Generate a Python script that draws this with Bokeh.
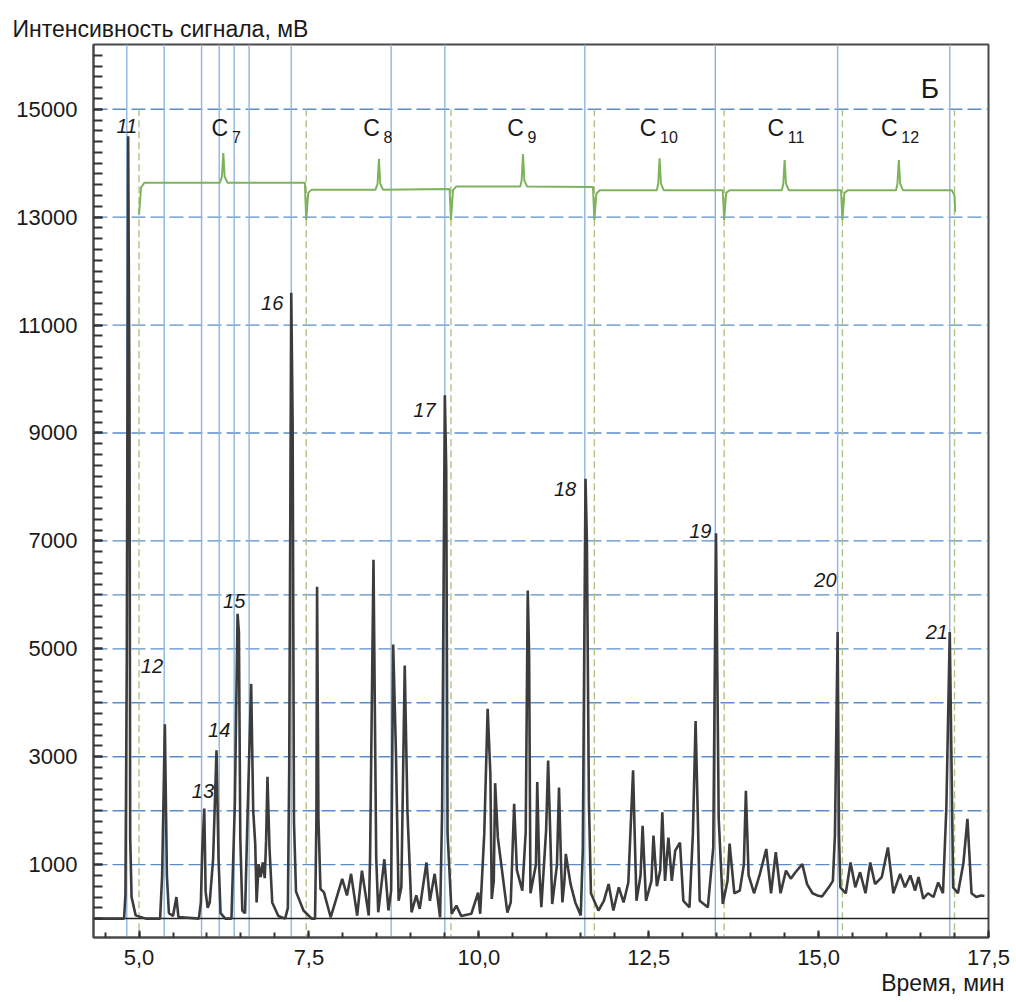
from bokeh.plotting import figure
from bokeh.models import Span, FixedTicker, Title, Range1d
from bokeh.core.properties import value
from bokeh.embed import file_html
from bokeh.resources import INLINE

FONT = "Liberation Sans"

# chromatogram: time (min) / signal (mV)
time_min = [
    4.33, 4.78, 4.80, 4.82, 4.84, 4.86, 4.87, 4.89, 4.95, 5.10,
    5.31, 5.34, 5.38, 5.41, 5.44, 5.50, 5.55, 5.58, 5.88,
    5.91, 5.93, 5.96, 5.98, 6.01, 6.04, 6.09, 6.14, 6.17, 6.20, 6.27,
    6.36, 6.41, 6.45, 6.47, 6.49, 6.52, 6.56, 6.60, 6.65, 6.68, 6.71, 6.73,
    6.76, 6.79, 6.82, 6.85, 6.87, 6.89, 6.92, 6.96, 7.05, 7.15,
    7.19, 7.21, 7.24, 7.26, 7.28, 7.31, 7.42, 7.54,
    7.59, 7.60, 7.61, 7.62, 7.64, 7.67, 7.72, 7.82, 7.99, 8.06, 8.12, 8.21,
    8.28, 8.38, 8.40, 8.45, 8.49, 8.52, 8.61, 8.67, 8.71, 8.74, 8.78, 8.82,
    8.86, 8.91, 8.95, 9.01, 9.08, 9.13, 9.23, 9.28, 9.35, 9.43,
    9.46, 9.50, 9.52, 9.54, 9.60, 9.67, 9.74, 9.89, 9.99, 10.02,
    10.08, 10.13, 10.17, 10.19, 10.22, 10.24, 10.28, 10.42, 10.47, 10.52,
    10.56, 10.64, 10.69, 10.72, 10.74, 10.76, 10.84, 10.86, 10.89, 10.92,
    10.99, 11.02, 11.05, 11.08, 11.15, 11.18, 11.21, 11.23, 11.26, 11.28,
    11.35, 11.42, 11.50, 11.53, 11.57, 11.59, 11.62, 11.65, 11.76,
    11.84, 11.91, 11.98, 12.06, 12.13, 12.20, 12.23, 12.27, 12.30, 12.32,
    12.38, 12.41, 12.46, 12.54, 12.57, 12.62, 12.67, 12.70, 12.74, 12.79,
    12.84, 12.89, 12.96, 13.01, 13.10, 13.15, 13.19, 13.22, 13.25, 13.37,
    13.45, 13.49, 13.53, 13.59, 13.66, 13.69, 13.76, 13.84, 13.90, 13.93,
    13.97, 14.01, 14.05, 14.13, 14.23, 14.30, 14.37, 14.44, 14.52, 14.59,
    14.66, 14.76, 14.83, 14.91, 14.98, 15.05, 15.15, 15.21, 15.24, 15.28,
    15.30, 15.32, 15.40, 15.47, 15.54, 15.61, 15.69, 15.76, 15.83, 15.93,
    16.02, 16.10, 16.20, 16.27, 16.35, 16.42, 16.47, 16.54, 16.61, 16.69,
    16.76, 16.83, 16.88, 16.93, 16.98, 17.05, 17.13, 17.19, 17.25, 17.32,
    17.39, 17.44,
]
signal_mv = [
    0, 0, 450, 4800, 14500, 9400, 1500, 400, 60, 0,
    0, 800, 3600, 800, 100, 50, 400, 30, 0,
    300, 1260, 2040, 500, 200, 300, 1100, 3120, 1100, 100, 0,
    0, 2120, 5650, 5300, 1500, 150, 100, 2060, 4350, 2000, 1380, 300,
    1010, 770, 1040, 750, 1450, 2630, 1300, 300, 50, 0,
    200, 2800, 11600, 9200, 1800, 500, 150, 0,
    0, 890, 1850, 6150, 1850, 550, 490, 25, 735, 430, 830, 56,
    890, 56, 1140, 6650, 1140, 117, 1100, 150, 520, 5080, 3100, 330,
    580, 4690, 1970, 117, 430, 180, 1040, 330, 830, 25,
    2000, 9700, 8350, 1570, 90, 240, 50, 90, 480, 90,
    1570, 3890, 2680, 365, 700, 2510, 1500, 110, 300, 2130,
    900, 520, 1600, 6080, 4900, 470, 1000, 2530, 900, 210,
    1630, 2930, 1630, 270, 1000, 2430, 1000, 300, 700, 1200,
    640, 300, 60, 1260, 8150, 7000, 2160, 470, 150,
    330, 640, 150, 580, 300, 670, 1570, 2750, 1260, 330,
    800, 1720, 330, 700, 1540, 600, 900, 1970, 700, 1500,
    700, 1260, 1410, 330, 210, 1570, 3660, 2030, 330, 210,
    1320, 7140, 1850, 270, 700, 1390, 470, 520, 1000, 2370,
    800, 640, 470, 800, 1290, 470, 1230, 470, 890, 740,
    860, 1010, 640, 470, 430, 410, 580, 700, 1540, 5310,
    1540, 580, 470, 1040, 580, 860, 470, 1040, 640, 770,
    1320, 470, 830, 580, 800, 520, 770, 370, 470, 400,
    670, 470, 2060, 5310, 580, 470, 1020, 1850, 470, 400,
    430, 420,
]

# standards trace (n-alkanes C7 ... C12)
std_time = [
    5.00, 5.03, 5.08, 6.19, 6.22, 6.24, 6.26, 6.30, 7.44,
    7.46, 7.49, 7.54, 8.48, 8.51, 8.53, 8.55, 8.59, 9.57,
    9.59, 9.62, 9.67, 10.61, 10.63, 10.65, 10.67, 10.71, 11.68,
    11.70, 11.73, 11.78, 12.62, 12.64, 12.66, 12.68, 12.72, 13.59,
    13.61, 13.64, 13.69, 14.46, 14.48, 14.50, 14.52, 14.56, 15.33,
    15.35, 15.38, 15.43, 16.14, 16.16, 16.18, 16.20, 16.24, 16.96,
    17.00, 17.01,
]
std_mv = [
    13050, 13550, 13640, 13640, 13750, 14190, 13750, 13640, 13640,
    12950, 13450, 13510, 13510, 13620, 14080, 13620, 13510, 13520,
    12950, 13500, 13570, 13570, 13680, 14170, 13680, 13570, 13560,
    12950, 13440, 13500, 13500, 13620, 14090, 13620, 13500, 13500,
    12950, 13450, 13500, 13500, 13620, 14060, 13620, 13500, 13500,
    12950, 13450, 13500, 13500, 13620, 14060, 13620, 13500, 13500,
    13400, 13100,
]

# boundaries between the alkane windows and the marked peaks
window_bounds = [5.00, 7.46, 9.59, 11.70, 13.61, 15.35, 17.00]
peak_marks = [4.82, 5.37, 5.92, 6.18, 6.40, 6.62, 7.24, 8.71, 9.50,
              11.56, 13.48, 15.28, 16.93]

# peak numbers
peak_names = ["11", "12", "13", "14", "15", "16", "17", "18", "19", "20", "21"]
peak_name_x = [4.82, 5.19, 5.94, 6.18, 6.40, 6.96, 9.20, 11.27, 13.26, 15.10, 16.74]
peak_name_y = [14690, 4690, 2370, 3490, 5880, 11400, 9420, 7970, 7190, 6270, 5320]

# alkane labels
alkane_n = ["7", "8", "9", "10", "11", "12"]
alkane_x = [6.19, 8.42, 10.54, 12.49, 14.37, 16.04]

grid_levels = [1000, 2000, 3000, 4000, 5000, 6000, 7000, 9000, 11000, 13000, 15000]
y_ticks = [1000, 3000, 5000, 7000, 9000, 11000, 13000, 15000]
x_ticks = [5.0, 7.5, 10.0, 12.5, 15.0, 17.5]
x_tick_labels = ["5,0", "7,5", "10,0", "12,5", "15,0", "17,5"]

p = figure(width=1010, height=1002, x_range=Range1d(4.33, 17.5), y_range=Range1d(-350, 16200),
           output_backend="svg", toolbar_location=None,
           min_border_left=93, min_border_right=22, min_border_top=44, min_border_bottom=65)

p.title.text = "Интенсивность сигнала, мВ"
p.title.text_font = FONT
p.title.text_font_size = "23px"
p.title.text_font_style = "normal"
p.title.text_color = "#1a1a1a"
p.title.align = "left"
p.title.offset = -81
p.title.standoff = 6

p.add_layout(Title(text="Время, мин", align="right", text_font=FONT, text_font_size="23px",
                   text_font_style="normal", text_color="#1a1a1a", offset=-16,
                   standoff=0), "below")

p.xgrid.visible = False
p.ygrid.visible = False
p.outline_line_color = "#4a4a4a"
p.outline_line_width = 2
p.background_fill_color = "white"

p.xaxis.ticker = FixedTicker(ticks=x_ticks, minor_ticks=[4.5 + 0.5 * i for i in range(27)])
p.xaxis.major_label_overrides = dict(zip(x_ticks, x_tick_labels))
p.yaxis.ticker = FixedTicker(ticks=y_ticks, minor_ticks=list(range(0, 16200, 200)))
for ax in (p.xaxis, p.yaxis):
    ax.axis_line_color = "#4a4a4a"
    ax.axis_line_width = 2
    ax.major_tick_out = 0
    ax.minor_tick_out = 0
    ax.major_tick_line_color = "#333333"
    ax.minor_tick_line_color = "#333333"
    ax.major_tick_line_width = 2
    ax.minor_tick_line_width = 2
    ax.major_label_text_font = FONT
    ax.major_label_text_font_size = "22px"
    ax.major_label_text_color = "#1a1a1a"
p.xaxis.major_tick_in = 7
p.xaxis.minor_tick_in = 5
p.yaxis.major_tick_in = 9
p.yaxis.minor_tick_in = 9
p.xaxis.major_label_standoff = 12
p.yaxis.major_label_standoff = 16

# grid: dashed horizontals, marked peaks, window boundaries
for lvl in grid_levels:
    p.add_layout(Span(location=lvl, dimension="width", line_color="#5b8dcb",
                      line_width=1.4, line_dash="14 5", level="underlay"))
for t in peak_marks:
    p.add_layout(Span(location=t, dimension="height", line_color="#8db6df",
                      line_width=1.4, level="underlay"))
p.segment(x0=window_bounds, x1=window_bounds, y0=15000, y1=-350,
          line_color="#b3c184", line_width=1.4, line_dash="7 4")

# zero line and traces
p.line([4.33, 17.5], [0, 0], line_color="#222222", line_width=1.5)
p.line(std_time, std_mv, line_color="#7db35c", line_width=2)
p.line(time_min, signal_mv, line_color="#3c3c3c", line_width=2.6)

p.text(x=peak_name_x, y=peak_name_y, text=peak_names, text_font=value(FONT),
       text_font_style="italic", text_font_size="20px", text_color="#1a1a1a",
       text_align="center", text_baseline="middle")

p.text(x=alkane_x, y=[14650] * len(alkane_x), text=["C"] * len(alkane_x), text_font=value(FONT),
       text_font_size="23px", text_color="#1a1a1a", text_align="center", text_baseline="middle")
p.text(x=alkane_x, y=[14650] * len(alkane_x), text=alkane_n, text_font=value(FONT),
       text_font_size="16px", text_color="#1a1a1a", text_align="left", text_baseline="middle",
       x_offset=12, y_offset=9)

p.text(x=[16.64], y=[15390], text=["Б"], text_font=value(FONT), text_font_size="28px",
       text_color="#1a1a1a", text_align="center", text_baseline="middle")

open("out.html", "w").write(file_html(p, INLINE))
